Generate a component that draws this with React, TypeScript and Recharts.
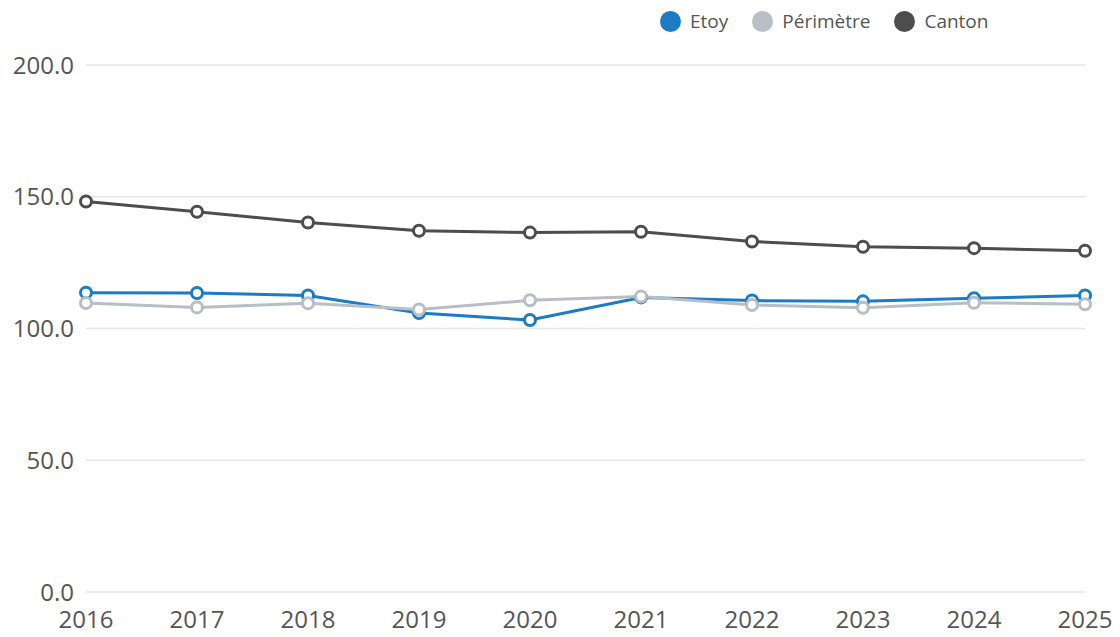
import React from 'react';
import { LineChart, Line, XAxis, YAxis, CartesianGrid } from 'recharts';

const years = ['2016', '2017', '2018', '2019', '2020', '2021', '2022', '2023', '2024', '2025'];
const etoy = [113.6, 113.5, 112.5, 105.9, 103.2, 111.8, 110.6, 110.3, 111.5, 112.5];
const perimetre = [109.7, 108.0, 109.6, 107.2, 110.7, 112.1, 108.9, 107.9, 109.8, 109.2];
const canton = [148.2, 144.3, 140.2, 137.1, 136.4, 136.7, 133.0, 131.0, 130.5, 129.5];
const yTicks = [0, 50, 100, 150, 200];

const series = [
  { key: 'etoy', name: 'Etoy', color: '#1b7bc3' },
  { key: 'perimetre', name: 'Périmètre', color: '#b8bec5' },
  { key: 'canton', name: 'Canton', color: '#4d4d4d' },
];

const data = years.map((year, i) => ({
  year,
  etoy: etoy[i],
  perimetre: perimetre[i],
  canton: canton[i],
}));

const font = '"Open Sans", sans-serif';

// legend drawn as plain html so it doesn't push the plot down
const LegendBox = () => (
  <div
    style={{
      position: 'absolute',
      top: 8,
      left: 660,
      display: 'flex',
      alignItems: 'center',
      fontFamily: font,
      fontSize: 19,
      color: '#555',
      whiteSpace: 'nowrap',
    }}
  >
    {series.map((s) => (
      <div key={s.key} style={{ display: 'flex', alignItems: 'center', marginRight: 24 }}>
        <span
          style={{
            width: 21,
            height: 21,
            borderRadius: '50%',
            background: s.color,
            display: 'inline-block',
            marginRight: 9,
          }}
        />
        <span>{s.name}</span>
      </div>
    ))}
  </div>
);

const App = () => {
  return (
    <div style={{ position: 'absolute', left: 0, top: 0, width: 1120, height: 637, background: '#fff' }}>
      <LineChart width={1120} height={637} data={data} margin={{ top: 65, right: 35, bottom: 15, left: 0 }}>
        <CartesianGrid vertical={false} stroke="#e6e6e6" strokeWidth={1.5} />
        <XAxis
          dataKey="year"
          axisLine={false}
          tickLine={false}
          tickSize={0}
          tickMargin={19}
          height={30}
          interval={0}
          tick={{ fill: '#555', fontSize: 24, fontFamily: font }}
        />
        <YAxis
          domain={[0, 200]}
          ticks={yTicks}
          width={86}
          axisLine={false}
          tickLine={false}
          tickSize={0}
          tickMargin={12}
          tickFormatter={(v: number) => v.toFixed(1)}
          tick={{ fill: '#555', fontSize: 24, fontFamily: font }}
        />
        {series.map((s) => (
          <Line
            key={s.key}
            type="linear"
            dataKey={s.key}
            name={s.name}
            stroke={s.color}
            strokeWidth={3}
            dot={{ r: 5.5, fill: '#fff', stroke: s.color, strokeWidth: 3 }}
            isAnimationActive={false}
          />
        ))}
      </LineChart>
      <LegendBox />
    </div>
  );
};

export default App;
